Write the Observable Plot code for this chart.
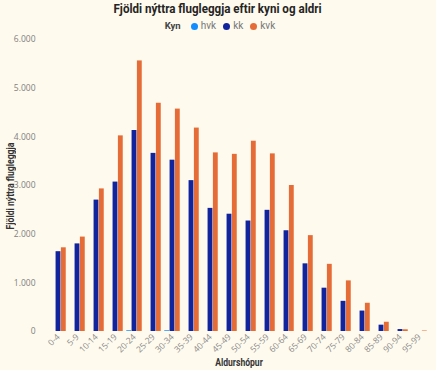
<!DOCTYPE html>
<html>
<head>
<meta charset="utf-8">
<script src="https://cdn.jsdelivr.net/npm/d3@7"></script>
<script src="https://cdn.jsdelivr.net/npm/@observablehq/plot@0.6"></script>
<style>
  html, body { margin: 0; padding: 0; background: #FEFAEE; }
  body { width: 436px; height: 370px; overflow: hidden; position: relative; font-family: Roboto, "Open Sans", sans-serif; }
  #title { position: absolute; left: 0; width: 436px; top: 0px; height: 15px; line-height: 15px; text-align: center; }
  #title span { font-weight: bold; font-size: 13px; color: #252423; }
  .fit { display: inline-block; transform-origin: center; }
  #legend { position: absolute; left: 0; width: 436px; top: 19px; height: 14px; line-height: 14px; text-align: center; font-size: 10px; color: #777; padding-left: 2px; }
  #legend b { color: #444; margin-right: 3px; font-size: 9.5px; }
  #legend .sw { display: inline-block; width: 7px; height: 7px; border-radius: 50%; margin: 0 3px 0 7px; vertical-align: -0.5px; }
  #chart { position: absolute; left: 0; top: 32px; }
  .ytitle { position: absolute; left: 10px; top: 186px; transform: translate(-50%, -50%) rotate(-90deg); white-space: nowrap; font-weight: bold; font-size: 10px; color: #333; }
  .xtitle { position: absolute; left: 239px; top: 362px; transform: translate(-50%, -50%); white-space: nowrap; font-weight: bold; font-size: 10px; color: #333; }
</style>
</head>
<body>
<div id="title"><span class="fit">Fjöldi nýttra flugleggja eftir kyni og aldri</span></div>
<div id="legend"></div>
<div id="chart"></div>
<div class="ytitle"><span class="fit">Fjöldi nýttra flugleggja</span></div>
<div class="xtitle"><span class="fit">Aldurshópur</span></div>
<script>
const groups = ["0-4","5-9","10-14","15-19","20-24","25-29","30-34","35-39","40-44","45-49","50-54","55-59","60-64","65-69","70-74","75-79","80-84","85-89","90-94","95-99"];
const seriesNames = ["hvk", "kk", "kvk"];
const seriesColors = ["#118DFF", "#12239E", "#E66C37"];
const hvk = [0,0,0,0,15,0,15,0,0,0,0,0,0,0,0,0,0,0,0,0];
const kk  = [1640,1800,2700,3070,4130,3660,3520,3100,2530,2410,2270,2490,2070,1390,890,620,420,130,40,0];
const kvk = [1720,1940,2930,4020,5560,4690,4570,4180,3670,3640,3910,3650,3000,1970,1380,1040,580,190,35,10];
const yTicks = [0,1000,2000,3000,4000,5000,6000];

const seriesValues = [hvk, kk, kvk];
const data = seriesNames.flatMap((s, si) => groups.map((g, gi) => ({group: g, series: s, value: seriesValues[si][gi]})));

const legend = document.getElementById("legend");
legend.innerHTML = "<b>Kyn</b>" + seriesNames.map((s, i) => `<span class="sw" style="background:${seriesColors[i]}"></span>${s}`).join("");

// fit text widths to the reference's condensed face (offsetWidth ignores transforms)
function fitWidth(el, target) {
  const w = el.offsetWidth;
  el.style.transform = `scaleX(${target / w})`;
}
fitWidth(document.querySelector("#title span"), 208);
fitWidth(document.querySelector(".ytitle span"), 87);
fitWidth(document.querySelector(".xtitle span"), 48);

const W = 436, H = 338, mL = 46, mR = 5, mT = 7, mB = 39;
const pInner = 0.17, pOuter = 0.085;
const step = (W - mL - mR) / (groups.length - pInner + 2 * pOuter);
const bw = step * (1 - pInner);
const sub = bw / 3;

const fmt = d => d3.format(",")(d).replace(/,/g, ".");

const barMarks = seriesNames.map((s, i) => Plot.barY(data.filter(d => d.series === s), {
  x: "group", y: "value", fill: seriesColors[i],
  insetLeft: i * sub + 0.25, insetRight: (2 - i) * sub + 0.25
}));

const plot = Plot.plot({
  width: W, height: H,
  marginLeft: mL, marginRight: mR, marginTop: mT, marginBottom: mB,
  style: { background: "transparent", fontFamily: "'Open Sans', Roboto, sans-serif" },
  x: { domain: groups, paddingInner: pInner, paddingOuter: pOuter },
  y: { domain: [0, 6000] },
  marks: [
    Plot.gridY(yTicks, { stroke: "#bbb", strokeOpacity: 0.8, strokeDasharray: "1,3", x1: mL - 4, x2: W }),
    ...barMarks,
    Plot.axisY(yTicks, { tickSize: 0, tickPadding: 11, tickFormat: fmt, fill: "#808080", fontSize: 8.5, label: null }),
    Plot.axisX({ tickSize: 0, tickPadding: 4, tickRotate: -45, fill: "#888", fontSize: 8.5, label: null })
  ]
});
document.getElementById("chart").appendChild(plot);
</script>
</body>
</html>
